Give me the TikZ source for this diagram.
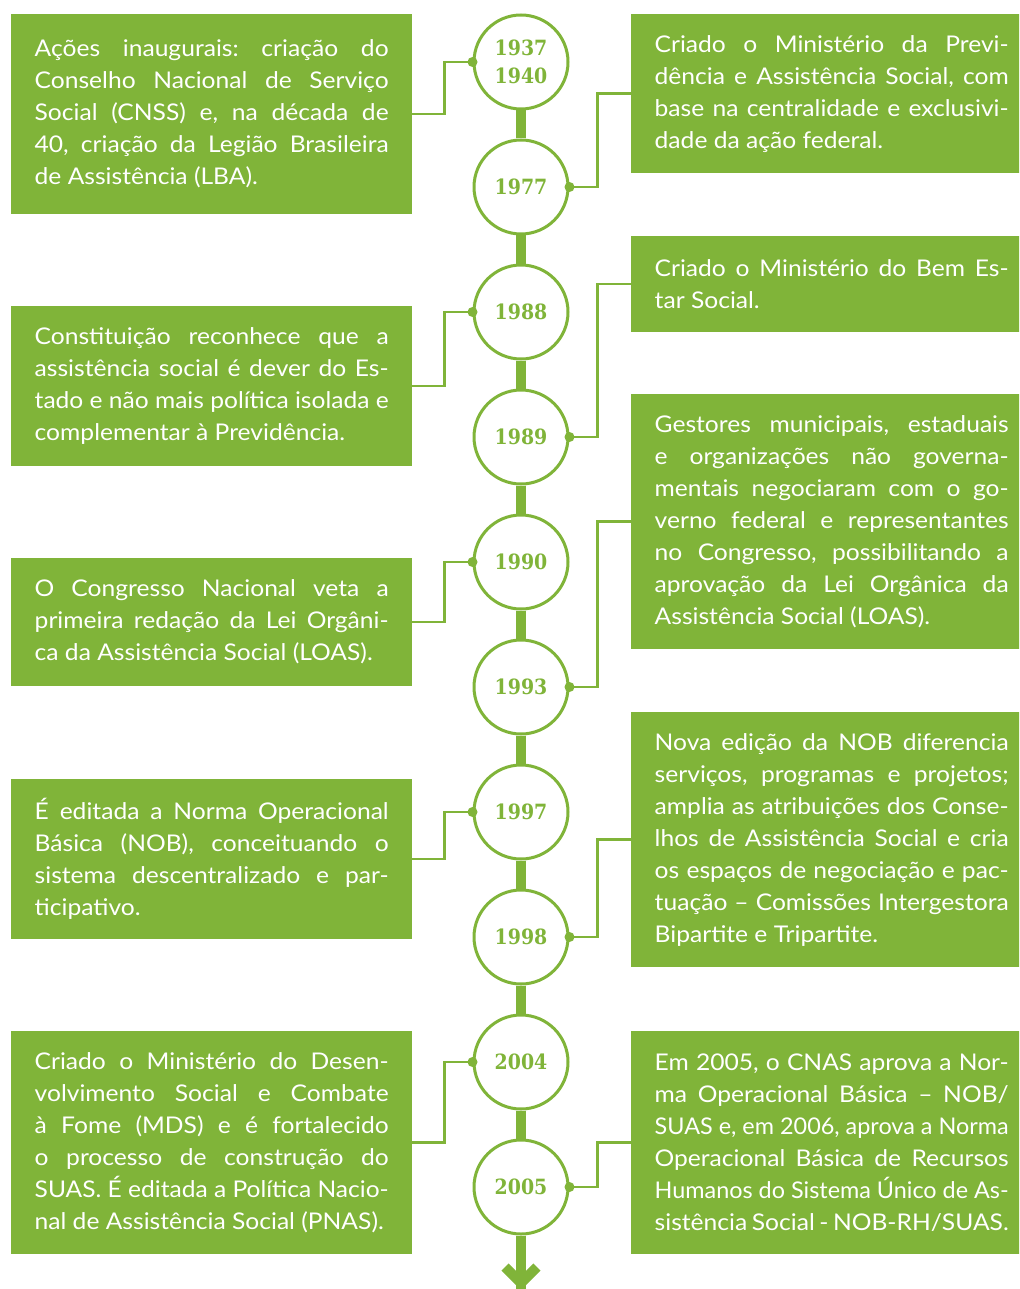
\documentclass[tikz,border=0pt]{standalone}
\usepackage{fontspec}
\usepackage{graphicx}
\setmainfont{Lato}[FakeStretch=1.07]
\newfontface\yearfont{DejaVu Serif Bold}[FakeStretch=0.9]
\definecolor{tg}{RGB}{128,180,57}
\newlength\natw
\frenchspacing
\newcommand\J[1]{{\frenchspacing\spaceskip=0pt\xspaceskip=0pt\settowidth\natw{#1}\noindent\ifdim\natw>\hsize\resizebox{\hsize}{\height}{#1}\else\makebox[\hsize][s]{#1}\fi\par}}
\newcommand\E[1]{{\frenchspacing\spaceskip=0pt\xspaceskip=0pt\noindent #1\par}}
\tikzset{
  evbox/.style={fill=tg, text=white, inner sep=0pt, text width=354pt, align=justify,
    minimum width=401pt, anchor=north west, font=\fontsize{23}{32}\selectfont},
  yr/.style={circle, draw=tg, line width=3pt, fill=white, minimum size=94pt,
    inner sep=0pt, text=tg, align=center, font={\fontsize{21}{28}\yearfont}},
  conn/.style={draw=tg, line width=2.5pt},
  spine/.style={draw=tg, line width=10pt},
}
\begin{document}
\begin{tikzpicture}[x=1pt, y=-1pt]
\useasboundingbox (0,0) rectangle (1019,1289);
\clip (0,0) rectangle (1019,1289);

% year circles
\node[yr] (c1) at (521,62) {1937\\1940};
\node[yr] (c2) at (521,187) {1977};
\node[yr] (c3) at (521,312) {1988};
\node[yr] (c4) at (521,437) {1989};
\node[yr] (c5) at (521,562) {1990};
\node[yr] (c6) at (521,687) {1993};
\node[yr] (c7) at (521,812) {1997};
\node[yr] (c8) at (521,937) {1998};
\node[yr] (c9) at (521,1062) {2004};
\node[yr] (c10) at (521,1187) {2005};
\coordinate (end) at (521,1289);

% spine
\draw[spine] (c1) -- (c2);
\draw[spine] (c2) -- (c3);
\draw[spine] (c3) -- (c4);
\draw[spine] (c4) -- (c5);
\draw[spine] (c5) -- (c6);
\draw[spine] (c6) -- (c7);
\draw[spine] (c7) -- (c8);
\draw[spine] (c8) -- (c9);
\draw[spine] (c9) -- (c10);
\draw[spine] (c10) -- (end);
\coordinate (al) at (505,1267);
\coordinate (ar) at (537,1267);
\coordinate (at) at (521,1283);
\draw[spine, line join=miter] (al) -- (at) -- (ar);

% left boxes
\node[evbox, minimum height=200pt] (L1) at (11,14) {%
\J{Ações inaugurais: criação do}%
\J{Conselho Nacional de Serviço}%
\J{Social (CNSS) e, na década de}%
\J{40, criação da Legião Brasileira}%
\E{de Assistência (LBA).}};
\node[evbox, minimum height=160pt] (L2) at (11,306) {%
\J{Constituição reconhece que a}%
\J{assistência social é dever do Es-}%
\J{tado e não mais política isolada e}%
\E{complementar à Previdência.}};
\node[evbox, minimum height=128pt] (L3) at (11,558) {%
\J{O Congresso Nacional veta a}%
\J{primeira redação da Lei Orgâni-}%
\E{ca da Assistência Social (LOAS).}};
\node[evbox, minimum height=160pt] (L4) at (11,779) {%
\J{É editada a Norma Operacional}%
\J{Básica (NOB), conceituando o}%
\J{sistema descentralizado e par-}%
\E{ticipativo.}};
\node[evbox, minimum height=223pt] (L5) at (11,1031) {%
\J{Criado o Ministério do Desen-}%
\J{volvimento Social e Combate}%
\J{à Fome (MDS) e é fortalecido}%
\J{o processo de construção do}%
\J{SUAS. É editada a Política Nacio-}%
\E{nal de Assistência Social (PNAS).}};

% right boxes
\node[evbox, minimum height=159pt] (R1) at (631,14) {%
\J{Criado o Ministério da Previ-}%
\J{dência e Assistência Social, com}%
\J{base na centralidade e exclusivi-}%
\E{dade da ação federal.}};
\node[evbox, minimum height=96pt] (R2) at (631,236) {%
\J{Criado o Ministério do Bem Es-}%
\E{tar Social.}};
\node[evbox, minimum height=255pt] (R3) at (631,394) {%
\J{Gestores municipais, estaduais}%
\J{e organizações não governa-}%
\J{mentais negociaram com o go-}%
\J{verno federal e representantes}%
\J{no Congresso, possibilitando a}%
\J{aprovação da Lei Orgânica da}%
\E{Assistência Social (LOAS).}};
\node[evbox, minimum height=255pt] (R4) at (631,712) {%
\J{Nova edição da NOB diferencia}%
\J{serviços, programas e projetos;}%
\J{amplia as atribuições dos Conse-}%
\J{lhos de Assistência Social e cria}%
\J{os espaços de negociação e pac-}%
\J{tuação – Comissões Intergestora}%
\E{Bipartite e Tripartite.}};
\node[evbox, minimum height=223pt] (R5) at (631,1031) {%
\J{Em 2005, o CNAS aprova a Nor-}%
\J{ma Operacional Básica – NOB/}%
\J{SUAS e, em 2006, aprova a Norma}%
\J{Operacional Básica de Recursos}%
\J{Humanos do Sistema Único de As-}%
\E{sistência Social - NOB-RH/SUAS.}};

% connectors
\draw[conn] (c1.west) -- ++(-28,0) |- (L1.east);
\draw[conn] (c3.west) -- ++(-28,0) |- (L2.east);
\draw[conn] (c5.west) -- ++(-28,0) |- (L3.east);
\draw[conn] (c7.west) -- ++(-28,0) |- (L4.east);
\draw[conn] (c9.west) -- ++(-28,0) |- (L5.east);
\draw[conn] (c2.east) -- ++(28,0) |- (R1.west);
\draw[conn] (c4.east) -- ++(28,0) |- (R2.west);
\draw[conn] (c6.east) -- ++(28,0) |- (R3.west);
\draw[conn] (c8.east) -- ++(28,0) |- (R4.west);
\draw[conn] (c10.east) -- ++(28,0) |- (R5.west);
\foreach \c in {c1,c3,c5,c7,c9} \fill[tg] (\c.west) circle[radius=5pt];
\foreach \c in {c2,c4,c6,c8,c10} \fill[tg] (\c.east) circle[radius=5pt];
\end{tikzpicture}
\end{document}
